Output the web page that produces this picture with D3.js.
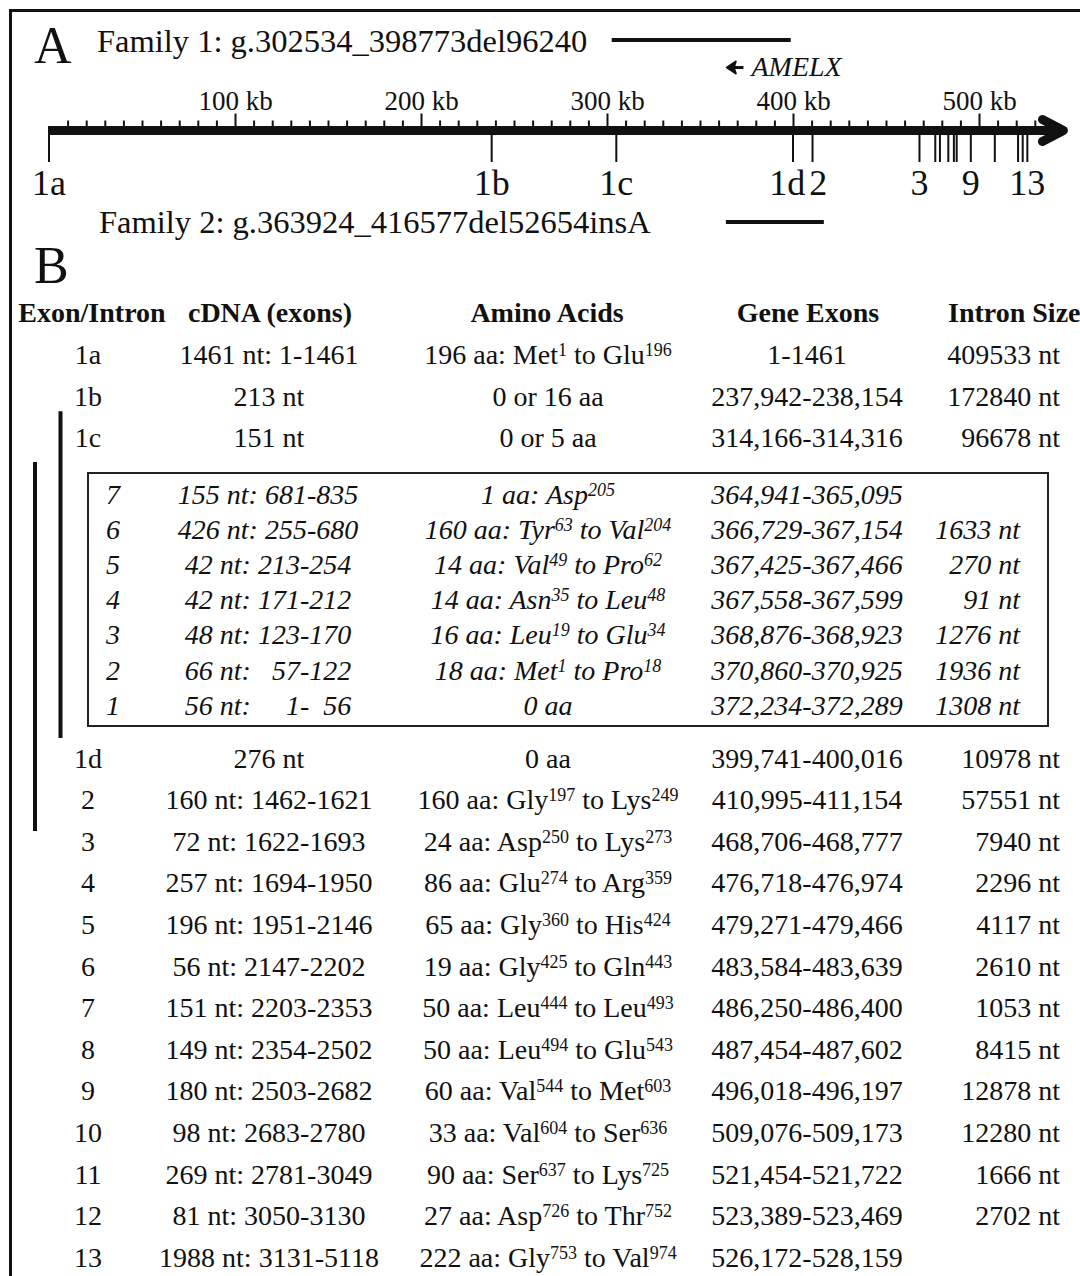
<!DOCTYPE html>
<html>
<head>
<meta charset="utf-8">
<script src="https://cdn.jsdelivr.net/npm/d3@7"></script>
<style>
  body { margin: 0; background: #fff; }
  svg { display: block; }
  text { font-family: "Liberation Serif", "Times New Roman", serif; fill: #111; white-space: pre; }
</style>
</head>
<body>
<div id="chart"></div>
<script>
const width = 1080;
const height = 1276;

// ---- panel A: genomic map ----
const family1 = { label: "Family 1: g.302534_398773del96240", start: 302.534, end: 398.773 };
const family2 = { label: "Family 2: g.363924_416577del52654insA", start: 363.924, end: 416.577 };
const amelx = { label: "AMELX", start: 364.941, end: 372.289 };

// exon marks on the ruler (kb)
const mapExons = ["1a", "1b", "1c", "1d", "2", "3", "4", "5", "6", "7", "8", "9", "10", "11", "12", "13"];
const mapExonKb = [0, 238, 305, 400, 410.5, 468, 476.5, 479, 483.5, 486.5, 488, 495.6, 508.5, 521, 523.5, 526];
const mapLabelled = ["1a", "1b", "1c", "1d", "2", "3", "9", "13"];
const majorTicks = [100, 200, 300, 400, 500];

// ---- panel B: table ----
const headers = ["Exon/Intron", "cDNA (exons)", "Amino Acids", "Gene Exons", "Intron Size"];

const rowExon = ["1a", "1b", "1c", "1d", "2", "3", "4", "5", "6", "7", "8", "9", "10", "11", "12", "13"];
const rowCdna = ["1461 nt: 1-1461", "213 nt", "151 nt", "276 nt", "160 nt: 1462-1621", "72 nt: 1622-1693",
  "257 nt: 1694-1950", "196 nt: 1951-2146", "56 nt: 2147-2202", "151 nt: 2203-2353", "149 nt: 2354-2502",
  "180 nt: 2503-2682", "98 nt: 2683-2780", "269 nt: 2781-3049", "81 nt: 3050-3130", "1988 nt: 3131-5118"];
const rowAmino = ["196 aa: Met^1 to Glu^196", "0 or 16 aa", "0 or 5 aa", "0 aa", "160 aa: Gly^197 to Lys^249",
  "24 aa: Asp^250 to Lys^273", "86 aa: Glu^274 to Arg^359", "65 aa: Gly^360 to His^424", "19 aa: Gly^425 to Gln^443",
  "50 aa: Leu^444 to Leu^493", "50 aa: Leu^494 to Glu^543", "60 aa: Val^544 to Met^603", "33 aa: Val^604 to Ser^636",
  "90 aa: Ser^637 to Lys^725", "27 aa: Asp^726 to Thr^752", "222 aa: Gly^753 to Val^974"];
const rowGene = ["1-1461", "237,942-238,154", "314,166-314,316", "399,741-400,016", "410,995-411,154",
  "468,706-468,777", "476,718-476,974", "479,271-479,466", "483,584-483,639", "486,250-486,400",
  "487,454-487,602", "496,018-496,197", "509,076-509,173", "521,454-521,722", "523,389-523,469", "526,172-528,159"];
const rowIntron = ["409533 nt", "172840 nt", "96678 nt", "10978 nt", "57551 nt", "7940 nt", "2296 nt", "4117 nt",
  "2610 nt", "1053 nt", "8415 nt", "12878 nt", "12280 nt", "1666 nt", "2702 nt", ""];
const rowsBeforeBox = 3;

// AMELX exons (boxed, italic)
const boxExon = ["7", "6", "5", "4", "3", "2", "1"];
const boxCdna = ["155 nt: 681-835", "426 nt: 255-680", "42 nt: 213-254", "42 nt: 171-212",
  "48 nt: 123-170", "66 nt:   57-122", "56 nt:     1-  56"];
const boxAmino = ["1 aa: Asp^205", "160 aa: Tyr^63 to Val^204", "14 aa: Val^49 to Pro^62",
  "14 aa: Asn^35 to Leu^48", "16 aa: Leu^19 to Glu^34", "18 aa: Met^1 to Pro^18", "0 aa"];
const boxGene = ["364,941-365,095", "366,729-367,154", "367,425-367,466", "367,558-367,599",
  "368,876-368,923", "370,860-370,925", "372,234-372,289"];
const boxIntron = ["", "1633 nt", "270 nt", "91 nt", "1276 nt", "1936 nt", "1308 nt"];

const svg = d3.select("#chart").append("svg")
    .attr("width", width)
    .attr("height", height);

svg.append("rect")
    .attr("x", 10.5).attr("y", 10.5)
    .attr("width", width + 40).attr("height", height + 40)
    .attr("fill", "none").attr("stroke", "#111").attr("stroke-width", 3);

const x = d3.scaleLinear().domain([0, 500]).range([49, 979]);
const axisY = 130.5;

// panel letters
svg.append("text").attr("x", 34).attr("y", 63).attr("font-size", 52).text("A");
svg.append("text").attr("x", 34).attr("y", 283).attr("font-size", 52).text("B");

// deletions
svg.append("text").attr("x", 97).attr("y", 52).attr("font-size", 32.5).text(family1.label);
svg.append("line")
    .attr("x1", x(family1.start)).attr("x2", x(family1.end))
    .attr("y1", 40).attr("y2", 40)
    .attr("stroke", "#111").attr("stroke-width", 4);

svg.append("text").attr("x", 99).attr("y", 233).attr("font-size", 32.5).text(family2.label);
svg.append("line")
    .attr("x1", x(family2.start)).attr("x2", x(family2.end))
    .attr("y1", 222).attr("y2", 222)
    .attr("stroke", "#111").attr("stroke-width", 4);

// AMELX (reverse strand arrow)
const ay = 67.5;
const ax0 = x(amelx.start) - 1;
svg.append("line")
    .attr("x1", x(amelx.end) + 2).attr("x2", ax0 + 5)
    .attr("y1", ay).attr("y2", ay)
    .attr("stroke", "#111").attr("stroke-width", 3);
svg.append("path")
    .attr("d", `M${ax0},${ay} L${ax0 + 9},${ay - 6} L${ax0 + 7},${ay} L${ax0 + 9},${ay + 6} Z`)
    .attr("fill", "#111").attr("stroke", "#111").attr("stroke-width", 2).attr("stroke-linejoin", "round");
svg.append("text")
    .attr("x", x(amelx.end) + 10).attr("y", 76)
    .attr("font-size", 28).attr("font-style", "italic")
    .text(amelx.label);

// ruler
const minorAxis = d3.axisTop(x)
    .tickValues(d3.range(10, 531, 10).filter(d => !majorTicks.includes(d)))
    .tickSize(6)
    .tickFormat("");
const majorAxis = d3.axisTop(x)
    .tickValues(majorTicks)
    .tickSize(13)
    .tickPadding(4)
    .tickFormat(d => d + " kb");

const gMinor = svg.append("g").attr("transform", `translate(0,${axisY - 4})`).call(minorAxis);
const gMajor = svg.append("g").attr("transform", `translate(0,${axisY - 4})`).call(majorAxis);
[gMinor, gMajor].forEach(g => {
  g.select(".domain").remove();
  g.selectAll("line").attr("stroke", "#111").attr("stroke-width", 2);
});
gMajor.selectAll("text")
    .attr("font-family", '"Liberation Serif", "Times New Roman", serif')
    .attr("font-size", 27).attr("fill", "#111");

// thick arrow shaft + head
const tipX = x(547);
svg.append("line")
    .attr("x1", x(0) - 1).attr("x2", tipX - 8)
    .attr("y1", axisY).attr("y2", axisY)
    .attr("stroke", "#111").attr("stroke-width", 9);
svg.append("path")
    .attr("d", `M${tipX - 24},${axisY - 11} L${tipX - 3},${axisY} L${tipX - 24},${axisY + 11}`)
    .attr("fill", "none").attr("stroke", "#111").attr("stroke-width", 9)
    .attr("stroke-linecap", "round").attr("stroke-linejoin", "round");

// exon marks
svg.append("g").selectAll("line")
    .data(mapExonKb)
    .join("line")
    .attr("x1", d => x(d)).attr("x2", d => x(d))
    .attr("y1", axisY).attr("y2", 162)
    .attr("stroke", "#111").attr("stroke-width", 2);

const exLabels = svg.append("g").selectAll("text")
    .data(mapExons.map((e, i) => ({ e, kb: mapExonKb[i] })).filter(d => mapLabelled.includes(d.e)))
    .join("text")
    .attr("x", d => x(d.kb)).attr("y", 195)
    .attr("text-anchor", "middle")
    .attr("font-size", 36)
    .text(d => d.e);

// push apart overlapping labels
const lab = exLabels.nodes().map(n => ({ n, cx: +n.getAttribute("x"), w: n.getComputedTextLength() }));
for (let i = 1; i < lab.length; i++) {
  const a = lab[i - 1], b = lab[i];
  const overlap = (a.cx + a.w / 2 + 4) - (b.cx - b.w / 2);
  if (overlap > 0) {
    a.cx -= overlap / 2; b.cx += overlap / 2;
    a.n.setAttribute("x", a.cx); b.n.setAttribute("x", b.cx);
  }
}

// ---- table ----
const col = { exon: 88, cdna: 269, amino: 548, gene: 807, intron: 1060 };
const boxCol = { exon: 113, cdna: 268, amino: 548, gene: 807, intron: 1020 };
const fs = 28;

function richText(sel, str) {
  const parts = str.split(/\^(\d+)/);
  let raised = false;
  parts.forEach((p, i) => {
    if (p === "") return;
    const t = sel.append("tspan").text(p);
    if (i % 2 === 1) {
      t.attr("font-size", 18);
      if (!raised) t.attr("dy", -8);
      raised = true;
    } else if (raised) {
      t.attr("dy", 8);
      raised = false;
    }
  });
}

const headerX = [92, 270, 547, 808, 948];
svg.append("g").selectAll("text")
    .data(headers)
    .join("text")
    .attr("x", (d, i) => headerX[i]).attr("y", 322)
    .attr("text-anchor", (d, i) => i === 4 ? "start" : "middle")
    .attr("font-size", fs).attr("font-weight", "bold")
    .text(d => d);

const rowStep = 41.6;
const rowY = i => i < rowsBeforeBox ? 364 + i * rowStep : 767.5 + (i - rowsBeforeBox) * rowStep;

function drawRows(g, ys, c, exon, cdna, amino, gene, intron, italic) {
  const rows = g.selectAll("g.row")
      .data(exon.map((e, i) => i))
      .join("g").attr("class", "row")
      .attr("transform", i => `translate(0,${ys(i)})`)
      .attr("font-size", fs)
      .attr("font-style", italic ? "italic" : "normal");
  rows.append("text").attr("x", c.exon).attr("text-anchor", "middle").text(i => exon[i]);
  rows.append("text").attr("x", c.cdna).attr("text-anchor", "middle").attr("xml:space", "preserve").text(i => cdna[i]);
  rows.append("text").attr("x", c.amino).attr("text-anchor", "middle").each(function (i) { richText(d3.select(this), amino[i]); });
  rows.append("text").attr("x", c.gene).attr("text-anchor", "middle").text(i => gene[i]);
  rows.append("text").attr("x", c.intron).attr("text-anchor", "end").text(i => intron[i]);
}

drawRows(svg.append("g"), rowY, col, rowExon, rowCdna, rowAmino, rowGene, rowIntron, false);

// AMELX box
const boxTop = 473, boxBottom = 726;
const boxStep = 35.2;
svg.append("rect")
    .attr("x", 88).attr("y", boxTop)
    .attr("width", 960).attr("height", boxBottom - boxTop)
    .attr("fill", "none").attr("stroke", "#222").attr("stroke-width", 2);
drawRows(svg.append("g"), i => 503.5 + i * boxStep, boxCol, boxExon, boxCdna, boxAmino, boxGene, boxIntron, true);

// transcript brackets
svg.append("line")
    .attr("x1", 60.5).attr("x2", 60.5)
    .attr("y1", rowY(2) - 36).attr("y2", boxBottom + 12)
    .attr("stroke", "#111").attr("stroke-width", 4);
svg.append("line")
    .attr("x1", 35).attr("x2", 35)
    .attr("y1", boxTop - 11).attr("y2", rowY(4) + 22)
    .attr("stroke", "#111").attr("stroke-width", 4);
</script>
</body>
</html>
